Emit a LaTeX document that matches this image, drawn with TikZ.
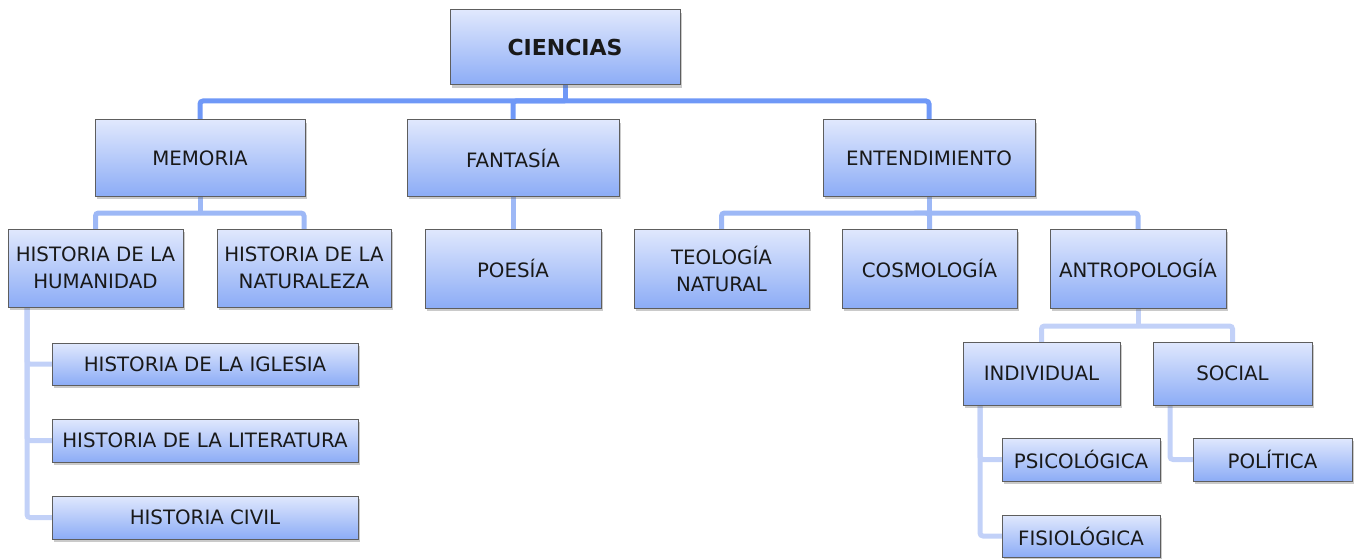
\documentclass[tikz,border=0pt]{standalone}
\usepackage{fontspec}
\setmainfont{DejaVu Sans}
\usetikzlibrary{shadows}
\definecolor{boxtop}{HTML}{E0E8FD}
\definecolor{boxbot}{HTML}{8CACF6}
\definecolor{boxline}{HTML}{5E5E5E}
\definecolor{cone}{HTML}{6F98F7}
\definecolor{ctwo}{HTML}{9DB8F6}
\definecolor{cthree}{HTML}{C2D1F8}
\tikzset{
  box/.style={draw=boxline, line width=1pt, top color=boxtop, bottom color=boxbot,
    align=center, inner sep=0pt, outer sep=0pt, text=black!90,
    font=\fontsize{19.8}{27}\selectfont,
    drop shadow={shadow xshift=2pt, shadow yshift=-3pt, opacity=0.35, fill=black!60}},
  conone/.style={draw=cone, line width=5pt, rounded corners=3pt},
  contwo/.style={draw=ctwo, line width=5pt, rounded corners=3pt},
  conthree/.style={draw=cthree, line width=5pt, rounded corners=3pt},
}
\pgfdeclarelayer{bg}
\pgfsetlayers{bg,main}
\begin{document}
\begin{tikzpicture}[x=1pt,y=-1pt]
\useasboundingbox (0,0) rectangle (1354,559);
\coordinate (j1) at (565,101);
\coordinate (j2) at (200,213);
\coordinate (j3) at (929,213);
\coordinate (j4) at (1138,326);
\coordinate (h0) at (27,300);
\coordinate (i0) at (980,400);
\coordinate (s0) at (1170,400);

% boxes
\node[box, minimum width=230, minimum height=75, font=\fontsize{22}{26}\selectfont\bfseries] (ciencias) at (565,47.5) {CIENCIAS};
\node[box, minimum width=210, minimum height=76] (memoria) at (200,158) {MEMORIA};
\node[box, minimum width=212, minimum height=76] (fantasia) at (513,158) {FANTASÍA};
\node[box, minimum width=212, minimum height=76] (entend) at (929,158) {ENTENDIMIENTO};
\node[box, minimum width=175, minimum height=78] (humanidad) at (95.5,268) {HISTORIA DE LA\\HUMANIDAD};
\node[box, minimum width=174, minimum height=78] (naturaleza) at (304,268) {HISTORIA DE LA\\NATURALEZA};
\node[box, minimum width=176, minimum height=79] (poesia) at (513,268.5) {POESÍA};
\node[box, minimum width=175, minimum height=79] (teologia) at (721.5,268.5) {TEOLOGÍA\\NATURAL};
\node[box, minimum width=175, minimum height=79] (cosmologia) at (929.5,268.5) {COSMOLOGÍA};
\node[box, minimum width=176, minimum height=79] (antropologia) at (1138,268.5) {ANTROPOLOGÍA};
\node[box, minimum width=306, minimum height=42] (iglesia) at (205,364) {HISTORIA DE LA IGLESIA};
\node[box, minimum width=306, minimum height=43] (literatura) at (205,440.5) {HISTORIA DE LA LITERATURA};
\node[box, minimum width=306, minimum height=43] (civil) at (205,517.5) {HISTORIA CIVIL};
\node[box, minimum width=157, minimum height=63] (individual) at (1041.5,373.5) {INDIVIDUAL};
\node[box, minimum width=159, minimum height=63] (social) at (1232.5,373.5) {SOCIAL};
\node[box, minimum width=158, minimum height=43] (psico) at (1081,459.5) {PSICOLÓGICA};
\node[box, minimum width=159, minimum height=43] (politica) at (1272.5,459.5) {POLÍTICA};
\node[box, minimum width=158, minimum height=42] (fisio) at (1081,536) {FISIOLÓGICA};

% connectors behind boxes
\begin{pgfonlayer}{bg}
\draw[conone] (ciencias.south) -- (j1);
\draw[conone] (j1) -| (memoria.north);
\draw[conone] (j1) -| (fantasia.north);
\draw[conone] (j1) -| (entend.north);
\draw[contwo] (memoria.south) -- (j2);
\draw[contwo] (j2) -| (humanidad.north);
\draw[contwo] (j2) -| (naturaleza.north);
\draw[contwo] (fantasia.south) -- (poesia.north);
\draw[contwo] (entend.south) -- (j3);
\draw[contwo] (j3) -| (teologia.north);
\draw[contwo] (j3) -| (cosmologia.north);
\draw[contwo] (j3) -| (antropologia.north);
\draw[conthree] (antropologia.south) -- (j4);
\draw[conthree] (j4) -| (individual.north);
\draw[conthree] (j4) -| (social.north);
\draw[conthree] (h0) |- (iglesia.west);
\draw[conthree] (h0) |- (literatura.west);
\draw[conthree] (h0) |- (civil.west);
\draw[conthree] (i0) |- (psico.west);
\draw[conthree] (i0) |- (fisio.west);
\draw[conthree] (s0) |- (politica.west);
\end{pgfonlayer}
\end{tikzpicture}
\end{document}
